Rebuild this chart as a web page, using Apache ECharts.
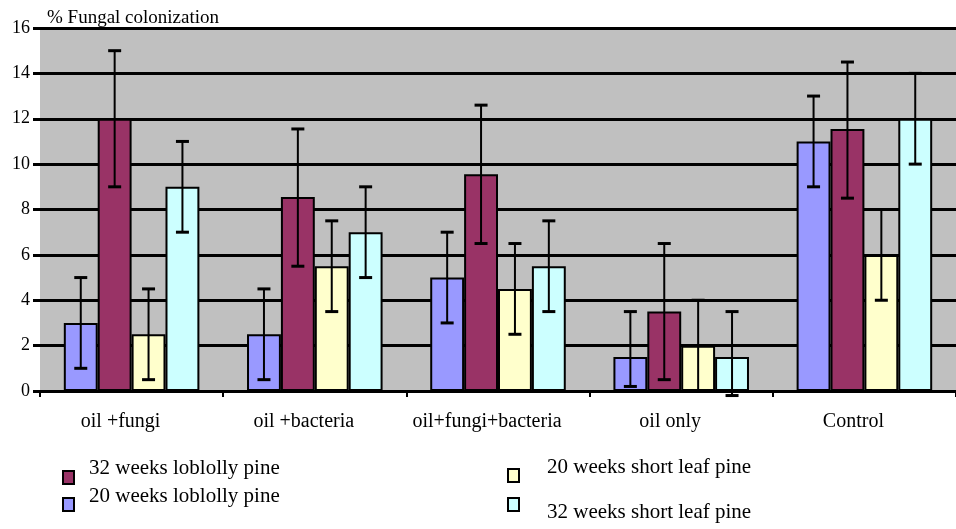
<!DOCTYPE html>
<html><head><meta charset="utf-8">
<script src="https://cdn.jsdelivr.net/npm/echarts@6/dist/echarts.min.js"></script>
<style>html,body{margin:0;padding:0;background:#fff}#c{width:956px;height:529px}</style>
</head><body><div id="c"></div>
<script>
const categories = ['oil +fungi', 'oil +bacteria', 'oil+fungi+bacteria', 'oil only', 'Control'];
const seriesNames = ['20 weeks loblolly pine', '32 weeks loblolly pine', '20 weeks short leaf pine', '32 weeks short leaf pine'];
const blueVals = [3, 2.5, 5, 1.5, 11];
const blueLow = [1, 0.5, 3, 0.2, 9];
const blueHigh = [5, 4.5, 7, 3.5, 13];
const maroonVals = [12, 8.55, 9.55, 3.5, 11.55];
const maroonLow = [9, 5.5, 6.5, 0.5, 8.5];
const maroonHigh = [15, 11.55, 12.6, 6.5, 14.5];
const yellowVals = [2.5, 5.5, 4.5, 2, 6];
const yellowLow = [0.5, 3.5, 2.5, 0, 4];
const yellowHigh = [4.5, 7.5, 6.5, 4, 8];
const cyanVals = [9, 7, 5.5, 1.5, 12];
const cyanLow = [7, 5, 3.5, -0.2, 10];
const cyanHigh = [11, 9, 7.5, 3.5, 14];
const yTicks = [0, 2, 4, 6, 8, 10, 12, 14, 16];

const colors = ['#9999FF', '#993366', '#FFFFCC', '#CCFFFF'];
const vals = [blueVals, maroonVals, yellowVals, cyanVals];
const lows = [blueLow, maroonLow, yellowLow, cyanLow];
const highs = [blueHigh, maroonHigh, yellowHigh, cyanHigh];
const GAP = 0.26;
const FONT = 'Liberation Serif';

const series = [];
vals.forEach((v, i) => {
  series.push({
    name: seriesNames[i], type: 'bar', data: v,
    barGap: 0, barCategoryGap: (GAP * 100) + '%',
    itemStyle: { color: colors[i], borderColor: '#000', borderWidth: 2 },
    z: 2
  });
});
vals.forEach((v, i) => {
  series.push({
    type: 'custom', z: 5, silent: true,
    data: categories.map((c, k) => [k, lows[i][k], highs[i][k]]),
    renderItem: function (params, api) {
      const k = api.value(0);
      const band = api.size([1, 0])[0];
      const bw = band * (1 - GAP) / 4;
      const off = -band * (1 - GAP) / 2 + (i + 0.5) * bw;
      const lo = api.coord([k, api.value(1)]);
      const hi = api.coord([k, api.value(2)]);
      const x = lo[0] + off;
      const cap = 6.5;
      const st = { stroke: '#000', lineWidth: 2 };
      const cs = { stroke: '#000', lineWidth: 3 };
      return { type: 'group', children: [
        { type: 'line', shape: { x1: x, y1: lo[1], x2: x, y2: hi[1] }, style: st },
        { type: 'line', shape: { x1: x - cap, y1: lo[1], x2: x + cap, y2: lo[1] }, style: cs },
        { type: 'line', shape: { x1: x - cap, y1: hi[1], x2: x + cap, y2: hi[1] }, style: cs }
      ]};
    },
    clip: false
  });
});

function leg(name, left, top, shift, gapLeft) {
  // shift < 0 moves text up relative to icon, > 0 moves it down
  const pad = shift < 0 ? [0, 0, -2 * shift, gapLeft] : [2 * shift, 0, 0, gapLeft];
  return {
    left: left, top: top, data: [{ name: name, icon: 'rect' }], itemWidth: 11, itemHeight: 13,
    itemStyle: { borderColor: '#000', borderWidth: 2 },
    formatter: '{t|{name}}',
    textStyle: { fontFamily: FONT, fontSize: 21, color: '#000',
      rich: { t: { fontFamily: FONT, fontSize: 21, color: '#000', padding: pad } } }
  };
}

const chart = echarts.init(document.getElementById('c'), null, { renderer: 'canvas' });
chart.setOption({
  animation: false,
  color: colors,
  textStyle: { fontFamily: FONT },
  grid: { left: 40, right: 0, top: 28, bottom: 138, show: true, backgroundColor: '#C0C0C0', borderWidth: 0 },
  title: { text: '% Fungal colonization', left: 42, top: 4,
    textStyle: { fontFamily: FONT, fontSize: 19, fontWeight: 'normal', color: '#000' } },
  legend: [
    leg(seriesNames[1], 57, 453, -9, 10),
    leg(seriesNames[0], 57, 481, -8, 10),
    leg(seriesNames[2], 502, 452, -8, 23),
    leg(seriesNames[3], 502, 492, 8, 23)
  ],
  xAxis: {
    type: 'category', data: categories,
    axisLine: { lineStyle: { color: '#000', width: 3 } },
    axisTick: { show: true, interval: 0, length: 6, lineStyle: { color: '#000', width: 2 } },
    axisLabel: { interval: 0, fontFamily: FONT, fontSize: 20, color: '#000', margin: 21, padding: [0, 22, 0, 0] }
  },
  yAxis: {
    type: 'value', min: 0, max: 16, interval: 2,
    axisLine: { show: false },
    axisTick: { show: true, length: 7, lineStyle: { color: '#000', width: 3 } },
    axisLabel: { fontFamily: FONT, fontSize: 18, color: '#000', margin: 10 },
    splitLine: { show: true, lineStyle: { color: '#000', width: 3 } }
  },
  series: series
});
</script></body></html>
